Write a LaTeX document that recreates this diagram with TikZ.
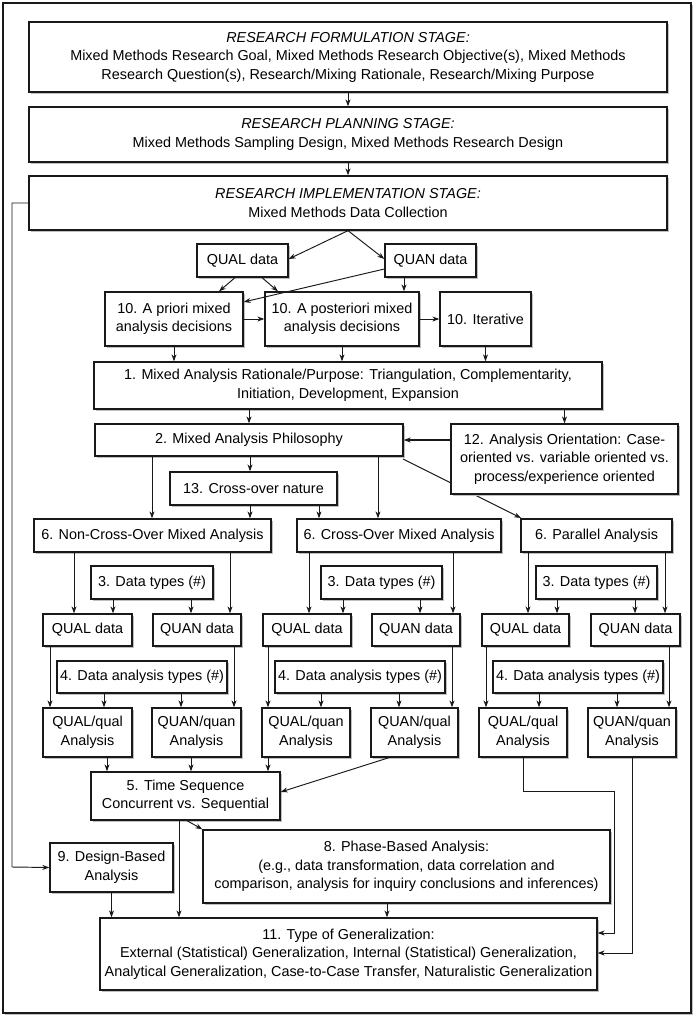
\documentclass[tikz,border=0pt]{standalone}
\usepackage{fontspec}
\setmainfont{Liberation Sans}
\usetikzlibrary{arrows.meta,shadows}
\newcommand\mkbox[6]{\node[box, minimum width={#4-#2}, minimum height={#5-#3}] (#1) at ({(#2+#4)/2},{(#3+#5)/2}) {#6};}
\begin{document}
\begin{tikzpicture}[x=1pt,y=-1pt,
  box/.style={draw=black!90, line width=1.3pt, fill=white, inner sep=0pt, align=center,
    font=\fontsize{14.4}{18.5}\selectfont,
    drop shadow={shadow xshift=2pt, shadow yshift=-2pt, fill=black!25, opacity=1}},
  arr/.style={draw=black!90, line width=0.95pt, -{Stealth[length=7pt,width=5pt]}},
  ln/.style={draw=black!90, line width=0.95pt}]
\useasboundingbox (0,0) rectangle (700,1022);
\node[draw=black!90, line width=1.6pt, fill=white, inner sep=0pt, minimum width=688, minimum height=1010,
  drop shadow={shadow xshift=2pt, shadow yshift=-2pt, fill=black!25, opacity=1}] (frame) at (347,508) {};

% line that passes behind box 12
\draw[arr] (403,459) -- (521,518);

\mkbox{form}{29}{22}{667}{92}{\textit{RESEARCH FORMULATION STAGE:}\\Mixed Methods Research Goal, Mixed Methods Research Objective(s), Mixed Methods\\Research Question(s), Research/Mixing Rationale, Research/Mixing Purpose}
\mkbox{plan}{29}{107}{667}{162}{\textit{RESEARCH PLANNING STAGE:}\\Mixed Methods Sampling Design, Mixed Methods Research Design}
\mkbox{impl}{29}{176}{667}{230}{\textit{RESEARCH IMPLEMENTATION STAGE:}\\Mixed Methods Data Collection}
\mkbox{qualA}{197}{244}{288}{277}{QUAL data}
\mkbox{quanA}{385}{244}{476}{277}{QUAN data}
\mkbox{apri}{105}{292}{243}{346}{10. A priori mixed\\analysis decisions}
\mkbox{apost}{265}{292}{419}{346}{10. A posteriori mixed\\analysis decisions}
\mkbox{iter}{440}{292}{531}{346}{10. Iterative}
\mkbox{rat}{94}{362}{602}{409}{1. Mixed Analysis Rationale/Purpose: Triangulation, Complementarity,\\Initiation, Development, Expansion}
\mkbox{phil}{95}{424}{403}{456}{2. Mixed Analysis Philosophy}
\mkbox{orient}{451}{424}{678}{494}{12. Analysis Orientation: Case-\\oriented vs. variable oriented vs.\\process/experience oriented}
\mkbox{cross13}{170}{472}{337}{505}{13. Cross-over nature}
\mkbox{noncross}{34}{519}{271}{552}{6. Non-Cross-Over Mixed Analysis}
\mkbox{crossover}{297}{519}{501}{552}{6. Cross-Over Mixed Analysis}
\mkbox{parallel}{521}{519}{672}{552}{6. Parallel Analysis}
\mkbox{dtA}{91}{566}{213}{599}{3. Data types (\#)}
\mkbox{dtB}{321}{566}{442}{599}{3. Data types (\#)}
\mkbox{dtC}{536}{566}{657}{599}{3. Data types (\#)}
\mkbox{dAa}{43}{614}{132}{646}{QUAL data}
\mkbox{dAb}{153}{614}{241}{646}{QUAN data}
\mkbox{dBa}{263}{614}{351}{646}{QUAL data}
\mkbox{dBb}{372}{614}{460}{646}{QUAN data}
\mkbox{dCa}{482}{614}{569}{646}{QUAL data}
\mkbox{dCb}{591}{614}{680}{646}{QUAN data}
\mkbox{datA}{57}{661}{227}{693}{4. Data analysis types (\#)}
\mkbox{datB}{275}{661}{445}{693}{4. Data analysis types (\#)}
\mkbox{datC}{493}{661}{663}{693}{4. Data analysis types (\#)}
\mkbox{anAa}{43}{708}{132}{757}{QUAL/qual\\Analysis}
\mkbox{anAb}{152}{708}{241}{757}{QUAN/quan\\Analysis}
\mkbox{anBa}{262}{708}{350}{757}{QUAL/quan\\Analysis}
\mkbox{anBb}{371}{708}{458}{757}{QUAN/qual\\Analysis}
\mkbox{anCa}{479}{708}{567}{757}{QUAL/qual\\Analysis}
\mkbox{anCb}{588}{708}{676}{757}{QUAN/quan\\Analysis}
\mkbox{time}{91}{772}{280}{820}{5. Time Sequence\\Concurrent vs. Sequential}
\mkbox{phase}{203}{830}{610}{903}{8. Phase-Based Analysis:\\(e.g., data transformation, data correlation and\\comparison, analysis for inquiry conclusions and inferences)}
\mkbox{design}{50}{843}{173}{892}{9. Design-Based\\Analysis}
\mkbox{gen}{100}{918}{597}{990}{11. Type of Generalization:\\External (Statistical) Generalization, Internal (Statistical) Generalization,\\Analytical Generalization, Case-to-Case Transfer, Naturalistic Generalization}

% stages
\draw[arr] (form.south) -- (plan.north);
\draw[arr] (plan.south) -- (impl.north);
\draw[arr] (impl.south) -- (qualA.east |- 0,259);
\draw[arr] (impl.south) -- (quanA.west |- 0,259);
\draw[arr] (qualA.south -| 235,0) -- (apri.north -| 219,0);
\draw[arr] (qualA.south -| 262,0) -- (apost.north -| 278,0);
\draw[arr] (quanA.south -| 404,0) -- (apost.north -| 404,0);
\draw[arr] (apri.east) -- (apost.west);
\draw[arr] (apost.east) -- (iter.west);
\draw[arr] (apri.south) -- (apri.south |- rat.north);
\draw[arr] (apost.south) -- (apost.south |- rat.north);
\draw[arr] (iter.south) -- (iter.south |- rat.north);
\draw[arr] (rat.south -| phil.north) -- (phil.north);
\draw[arr] (rat.south -| orient.north) -- (orient.north);
\draw[arr, line width=1.3pt] (orient.west |- phil.east) -- (phil.east);
\draw[arr] (phil.south -| 250,0) -- (cross13.north -| 250,0);
\draw[arr] (phil.south -| 152,0) -- (noncross.north -| 152,0);
\draw[arr] (phil.south -| 378,0) -- (crossover.north -| 378,0);
\draw[arr] (cross13.south -| 250,0) -- (noncross.north -| 250,0);
\draw[arr] (cross13.south -| 319,0) -- (crossover.north -| 319,0);
% group A
\draw[arr] (noncross.south -| 74,0) -- (dAa.north -| 74,0);
\draw[arr] (noncross.south -| 230,0) -- (dAb.north -| 230,0);
\draw[arr] (dtA.south -| 113,0) -- (dAa.north -| 113,0);
\draw[arr] (dtA.south -| 191,0) -- (dAb.north -| 191,0);
\draw[arr] (dAa.south -| 50,0) -- (anAa.north -| 50,0);
\draw[arr] (dAb.south -| 234,0) -- (anAb.north -| 234,0);
\draw[arr] (datA.south -| 104,0) -- (anAa.north -| 104,0);
\draw[arr] (datA.south -| 181,0) -- (anAb.north -| 181,0);
% group B
\draw[arr] (crossover.south -| 309,0) -- (dBa.north -| 309,0);
\draw[arr] (crossover.south -| 453,0) -- (dBb.north -| 453,0);
\draw[arr] (dtB.south -| 343,0) -- (dBa.north -| 343,0);
\draw[arr] (dtB.south -| 420,0) -- (dBb.north -| 420,0);
\draw[arr] (dBa.south -| 268,0) -- (anBa.north -| 268,0);
\draw[arr] (dBb.south -| 452,0) -- (anBb.north -| 452,0);
\draw[arr] (datB.south -| 321,0) -- (anBa.north -| 321,0);
\draw[arr] (datB.south -| 399,0) -- (anBb.north -| 399,0);
% group C
\draw[arr] (parallel.south -| 528,0) -- (dCa.north -| 528,0);
\draw[arr] (parallel.south -| 665,0) -- (dCb.north -| 665,0);
\draw[arr] (dtC.south -| 557,0) -- (dCa.north -| 557,0);
\draw[arr] (dtC.south -| 635,0) -- (dCb.north -| 635,0);
\draw[arr] (dCa.south -| 486,0) -- (anCa.north -| 486,0);
\draw[arr] (dCb.south -| 669,0) -- (anCb.north -| 669,0);
\draw[arr] (datC.south -| 539,0) -- (anCa.north -| 539,0);
\draw[arr] (datC.south -| 617,0) -- (anCb.north -| 617,0);
% to time sequence
\draw[arr] (anAa.south -| 107,0) -- (time.north -| 107,0);
\draw[arr] (anAb.south -| 191,0) -- (time.north -| 191,0);
\draw[arr] (anBa.south -| 268,0) -- (time.north -| 268,0);
\draw[arr] (anBb.south -| 389,0) -- (time.east |- 0,792);
\draw[arr] (anCa.south -| 523,0) -- (523,791) -- (614,791) -- (614,933) -- (gen.east |- 0,933);
\draw[arr] (anCb.south -| 632,0) -- (632,953) -- (gen.east |- 0,953);
% bottom
\draw[arr] (time.south -| 179,0) -- (gen.north -| 179,0);
\draw[arr] (time.south -| 187,0) -- (phase.north west);
\draw[arr] (design.south) -- (gen.north -| design.south);
\draw[arr] (phase.south -| 387,0) -- (gen.north -| 387,0);
\draw[arr] (impl.west) -- (12,203) -- (12,867) -- (design.west);
% line over box corner
\draw[arr] (quanA.west |- 0,269) -- (apri.east |- 0,302);
\end{tikzpicture}
\end{document}
